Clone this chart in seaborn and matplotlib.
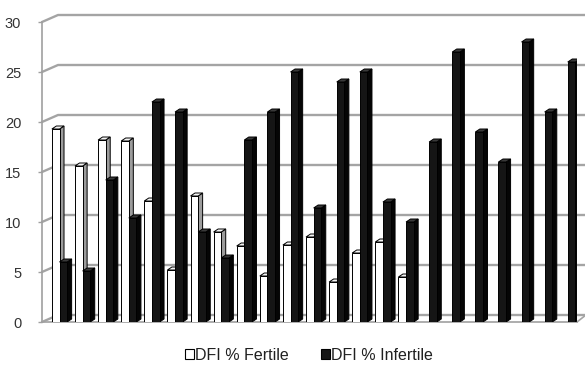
import numpy as np
import pandas as pd
import matplotlib
matplotlib.use("Agg")
import matplotlib.pyplot as plt
from matplotlib.patches import Polygon, Patch
from matplotlib.lines import Line2D
import seaborn as sns

# DFI values per sample pair
groups = [str(i) for i in range(1, 24)]
fertile = [19.3, 15.6, 18.2, 18.1, 12.1, 5.2, 12.6, 9.0, 7.6, 4.6, 7.7, 8.5,
           4.0, 6.9, 8.0, 4.5, None, None, None, None, None, None, None]
infertile = [6.0, 5.1, 14.2, 10.4, 22.0, 21.0, 9.0, 6.4, 18.2, 21.0, 25.0, 11.4,
             24.0, 25.0, 12.0, 10.0, 18.0, 27.0, 19.0, 16.0, 28.0, 21.0, 26.0]
series = ["DFI % Fertile", "DFI % Infertile"]
yticks = [0, 5, 10, 15, 20, 25, 30]

rows = []
for g, f, i in zip(groups, fertile, infertile):
    rows.append({"group": g, "series": series[0], "value": f})
    rows.append({"group": g, "series": series[1], "value": i})
df = pd.DataFrame(rows)

sns.set_theme(style="white")
plt.rcParams["font.family"] = ["Liberation Sans", "DejaVu Sans"]

W, H = 585, 367
fig = plt.figure(figsize=(W / 100, H / 100), dpi=100)
# front plane of the chart in pixels
L, R, B, T = 42, 577, 322, 22
ax = fig.add_axes([L / W, 1 - B / H, (R - L) / W, (B - T) / H])

fills = {series[0]: "white", series[1]: "#151515"}
sns.barplot(data=df, x="group", y="value", hue="series", palette=fills,
            hue_order=series, width=0.66, edgecolor="black", linewidth=0.7,
            legend=False, ax=ax, zorder=3)

ax.set_xlim(-0.758, 22.40)
ax.set_ylim(0, 30)
ax.set_xticks([])
ax.set_xlabel("")
ax.set_ylabel("")
ax.set_yticks(yticks)
ax.set_yticklabels([str(v) for v in yticks], fontsize=10.5, color="#333333")
ax.yaxis.set_tick_params(length=3, width=1, color="#a0a0a0", pad=12, left=True)
for s in ["top", "right"]:
    ax.spines[s].set_visible(False)
for s in ["left", "bottom"]:
    ax.spines[s].set_color("#a0a0a0")
    ax.spines[s].set_linewidth(1.2)

# back wall: depth offset in axes fraction
pw, ph = R - L, B - T
dxa, dya = 16 / pw, 7 / ph
xend = 1 + (W - R) / pw
grid_c = "#a4a4a4"
for v in yticks:
    ya = v / 30
    ax.add_line(Line2D([0, dxa, xend], [ya, ya + dya, ya + dya],
                       transform=ax.transAxes, color=grid_c, lw=1.7,
                       clip_on=False, zorder=0))
# floor right edge
ax.add_line(Line2D([1, 1 + 8 / pw], [0, 7 / ph * 0.9], transform=ax.transAxes,
                   color=grid_c, lw=1.2, clip_on=False, zorder=0))

# bar depth (top and side faces)
fig.canvas.draw()
inv = ax.transData.inverted()
p0 = inv.transform(ax.transData.transform((0, 0)))
px = inv.transform(ax.transData.transform((0, 0)) + np.array([4.5, 3.0]))
ddx, ddy = px[0] - p0[0], px[1] - p0[1]

side_c = {"white": ("#9c9c9c", "#f4f4f4"), "dark": ("#050505", "#3a3a3a")}
for p in list(ax.patches):
    h = p.get_height()
    if h is None or not np.isfinite(h) or h <= 0:
        continue
    x0, w = p.get_x(), p.get_width()
    light = p.get_facecolor()[0] > 0.5
    sc, tc = side_c["white"] if light else side_c["dark"]
    z = p.get_zorder()
    side = Polygon([(x0 + w, 0), (x0 + w + ddx, ddy), (x0 + w + ddx, h + ddy),
                    (x0 + w, h)], closed=True, facecolor=sc, edgecolor="black",
                   lw=0.7, zorder=z - 0.1 if light else z)
    top = Polygon([(x0, h), (x0 + ddx, h + ddy), (x0 + w + ddx, h + ddy),
                   (x0 + w, h)], closed=True, facecolor=tc, edgecolor="black",
                  lw=0.7, zorder=z)
    ax.add_patch(side)
    ax.add_patch(top)
    if not light:
        p.set_zorder(z + 0.2)
        side.set_zorder(z + 0.1)
        top.set_zorder(z + 0.2)

handles = [Patch(facecolor="white", edgecolor="black", lw=0.8, label=series[0]),
           Patch(facecolor="#151515", edgecolor="black", lw=0.8, label=series[1])]
fig.legend(handles=handles, loc="center", bbox_to_anchor=(309 / W, 1 - 355 / H),
           ncol=2, frameon=False, fontsize=11.5, handlelength=0.55,
           handleheight=0.55, handletextpad=0.1, columnspacing=2.0,
           labelcolor="#202020")

fig.savefig("out.png", dpi=100)
